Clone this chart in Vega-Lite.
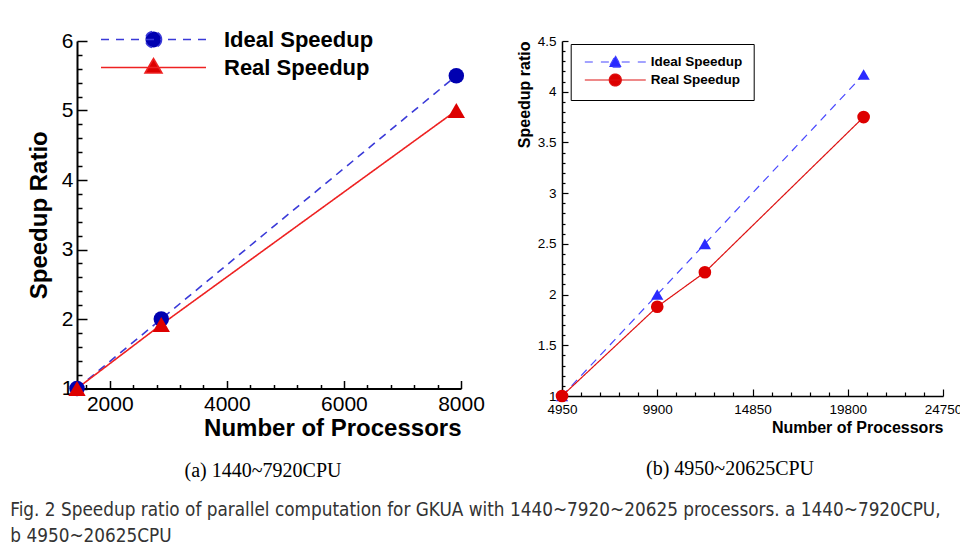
{
  "$schema": "https://vega.github.io/schema/vega-lite/v6.json",
  "background": "white",
  "padding": {"left": 10, "top": 28, "right": 0, "bottom": 0},
  "config": {"view": {"stroke": null}},
  "title": {
    "text": ["Fig. 2 Speedup ratio of parallel computation for GKUA with 1440~7920~20625 processors. a 1440~7920CPU,", "b 4950~20625CPU"],
    "orient": "bottom", "anchor": "start", "font": "Liberation Sans Narrow, DejaVu Sans Condensed, sans-serif",
    "fontSize": 18.8, "fontWeight": "normal", "color": "#333333", "lineHeight": 26, "offset": 20, "dx": -17
  },
  "bounds": "flush",
  "spacing": 101,
  "resolve": {
    "scale": {"color": "independent", "strokeDash": "independent"},
    "legend": {"color": "independent", "strokeDash": "independent"}
  },
  "hconcat": [
    {
      "width": 384, "height": 347.5,
      "data": {"values": [
        {"series": "Ideal Speedup", "processors": 1440, "speedup": 1},
        {"series": "Ideal Speedup", "processors": 2880, "speedup": 2},
        {"series": "Ideal Speedup", "processors": 7920, "speedup": 5.5},
        {"series": "Real Speedup", "processors": 1440, "speedup": 1},
        {"series": "Real Speedup", "processors": 2880, "speedup": 1.92},
        {"series": "Real Speedup", "processors": 7920, "speedup": 5.0}
      ]},
      "title": {"text": "(a) 1440~7920CPU", "orient": "bottom", "font": "Liberation Serif", "fontSize": 20, "fontWeight": "normal", "color": "black", "offset": 20, "dx": -6},
      "layer": [
        {
          "mark": {"type": "line", "strokeWidth": 1.6},
          "encoding": {
            "x": {"field": "processors", "type": "quantitative", "scale": {"domain": [1440, 8000], "nice": false, "zero": false},
              "axis": {"orient": "bottom", "values": [2000, 4000, 6000, 8000], "format": "d", "grid": false, "ticks": false, "tickSize": 0, "domainColor": "black", "domainWidth": 2,
                "labelFont": "Liberation Sans", "labelFontSize": 21, "labelColor": "black", "labelPadding": 5, "labelFlush": false,
                "title": "Number of Processors", "titleFont": "Liberation Sans", "titleFontSize": 24, "titleFontWeight": "bold", "titleColor": "black", "titleAnchor": "end", "titlePadding": 2}},
            "y": {"field": "speedup", "type": "quantitative", "scale": {"domain": [1, 6], "nice": false, "zero": false},
              "axis": {"orient": "left", "values": [1, 2, 3, 4, 5, 6], "format": "~g", "grid": false, "ticks": false, "tickSize": 0, "domainColor": "black", "domainWidth": 2,
                "labelFont": "Liberation Sans", "labelFontSize": 21, "labelColor": "black", "labelPadding": 4,
                "title": "Speedup Ratio", "titleFont": "Liberation Sans", "titleFontSize": 24, "titleFontWeight": "bold", "titleColor": "black", "titlePadding": 10}},
            "color": {"field": "series", "type": "nominal", "scale": {"domain": ["Ideal Speedup", "Real Speedup"], "range": ["#3a3ad8", "#ee2222"]},
              "legend": {"orient": "none", "legendX": 65.5, "legendY": -12.5, "title": null, "padding": 0, "symbolSize": 400, "symbolStrokeWidth": 1.6,
                "labelFont": "Liberation Sans", "labelFontSize": 22, "labelFontWeight": "bold", "labelColor": "black", "labelOffset": 59.5, "rowPadding": 3, "labelLimit": 300,
                "encode": {"symbols": {"update": {
                  "shape": {"signal": "datum.value === 'Ideal Speedup' ? 'M-5.25,0L-4.45,0M-3.75,0L-2.95,0M-2.25,0L-1.45,0M-0.75,0L0.75,0M1.45,0L2.25,0M2.95,0L3.75,0M4.45,0L5.25,0M0.8,0A0.8,0.8,0,1,1,-0.8,0A0.8,0.8,0,1,1,0.8,0Z' : 'M-5.25,0L5.25,0M0,-0.9L0.85,0.55L-0.85,0.55Z'"},
                  "fill": {"signal": "datum.value === 'Ideal Speedup' ? '#0000b0' : '#dd0000'"},
                  "fillOpacity": {"value": 1},
                  "stroke": {"signal": "datum.value === 'Ideal Speedup' ? '#3a3ad8' : '#ee2222'"},
                  "strokeWidth": {"value": 1.6},
                  "strokeDash": {"value": [1, 0]},
                  "opacity": {"value": 1}
                }}}}},
            "strokeDash": {"field": "series", "type": "nominal", "scale": {"domain": ["Ideal Speedup", "Real Speedup"], "range": [[8, 6], [1, 0]]}, "legend": null}
          }
        },
        {
          "transform": [{"filter": "datum.series === 'Ideal Speedup'"}],
          "mark": {"type": "point", "shape": "circle", "filled": true, "color": "#0000b0", "opacity": 1, "strokeWidth": 0, "size": 240},
          "encoding": {
            "x": {"field": "processors", "type": "quantitative",
              "axis": {"orient": "bottom", "values": [2000, 4000, 6000, 8000], "grid": false, "labels": false, "domain": false, "title": null, "ticks": true, "tickColor": "black", "tickWidth": 1.5, "tickSize": -8}},
            "y": {"field": "speedup", "type": "quantitative",
              "axis": {"orient": "left", "values": [1, 2, 3, 4, 5, 6], "grid": false, "labels": false, "domain": false, "title": null, "ticks": true, "tickColor": "black", "tickWidth": 1.5, "tickSize": -10}}
          }
        },
        {
          "transform": [{"filter": "datum.series === 'Real Speedup'"}],
          "mark": {"type": "point", "shape": "triangle-up", "filled": true, "color": "#dd0000", "opacity": 1, "strokeWidth": 0, "size": 300},
          "encoding": {
            "x": {"field": "processors", "type": "quantitative",
              "axis": {"orient": "bottom", "values": [1600, 2400, 2800, 3200, 3600, 4400, 4800, 5200, 5600, 6400, 6800, 7200, 7600], "grid": false, "labels": false, "domain": false, "title": null, "ticks": true, "tickColor": "black", "tickWidth": 1.5, "tickSize": -4}},
            "y": {"field": "speedup", "type": "quantitative",
              "axis": {"orient": "left", "values": [1.2, 1.4, 1.6, 1.8, 2.2, 2.4, 2.6, 2.8, 3.2, 3.4, 3.6, 3.8, 4.2, 4.4, 4.6, 4.8, 5.2, 5.4, 5.6, 5.8], "grid": false, "labels": false, "domain": false, "title": null, "ticks": true, "tickColor": "black", "tickWidth": 1.5, "tickSize": -5}}
          }
        }
      ],
      "resolve": {"axis": {"x": "independent", "y": "independent"}}
    },
    {
      "width": 381, "height": 355,
      "data": {"values": [
        {"series": "Ideal Speedup", "processors": 4950, "speedup": 1},
        {"series": "Ideal Speedup", "processors": 9900, "speedup": 2},
        {"series": "Ideal Speedup", "processors": 12375, "speedup": 2.5},
        {"series": "Ideal Speedup", "processors": 20625, "speedup": 4.17},
        {"series": "Real Speedup", "processors": 4950, "speedup": 1},
        {"series": "Real Speedup", "processors": 9900, "speedup": 1.88},
        {"series": "Real Speedup", "processors": 12375, "speedup": 2.22},
        {"series": "Real Speedup", "processors": 20625, "speedup": 3.75}
      ]},
      "title": {"text": "(b) 4950~20625CPU", "orient": "bottom", "font": "Liberation Serif", "fontSize": 20, "fontWeight": "normal", "color": "black", "offset": 23, "dx": -22.5},
      "layer": [
        {
          "mark": {"type": "line", "strokeWidth": 1.2},
          "encoding": {
            "x": {"field": "processors", "type": "quantitative", "scale": {"domain": [4950, 24750], "nice": false, "zero": false},
              "axis": {"orient": "bottom", "values": [4950, 9900, 14850, 19800, 24750], "format": "d", "grid": false, "ticks": false, "tickSize": 0, "domainColor": "black", "domainWidth": 1.5,
                "labelFont": "Liberation Sans", "labelFontSize": 13.5, "labelColor": "black", "labelPadding": 6, "labelFlush": false,
                "title": "Number of Processors", "titleFont": "Liberation Sans", "titleFontSize": 16, "titleFontWeight": "bold", "titleColor": "black", "titleAnchor": "end", "titlePadding": 4}},
            "y": {"field": "speedup", "type": "quantitative", "scale": {"domain": [1, 4.5], "nice": false, "zero": false},
              "axis": {"orient": "left", "values": [1, 1.5, 2, 2.5, 3, 3.5, 4, 4.5], "format": "~g", "grid": false, "ticks": false, "tickSize": 0, "domainColor": "black", "domainWidth": 1.5,
                "labelFont": "Liberation Sans", "labelFontSize": 13.5, "labelColor": "black", "labelPadding": 6,
                "title": "Speedup ratio", "titleFont": "Liberation Sans", "titleFontSize": 16, "titleFontWeight": "bold", "titleColor": "black", "titleAnchor": "end", "titlePadding": 5}},
            "color": {"field": "series", "type": "nominal", "scale": {"domain": ["Ideal Speedup", "Real Speedup"], "range": ["#4848ff", "#dd1111"]},
              "legend": {"orient": "none", "legendX": 8.7, "legendY": 3, "title": null, "padding": 11, "strokeColor": "black", "fillColor": "white",
                "symbolSize": 144, "symbolOffset": 26.6, "labelOffset": 28.4,
                "labelFont": "Liberation Sans", "labelFontSize": 13.5, "labelFontWeight": "bold", "labelColor": "black", "rowPadding": 1, "labelLimit": 300,
                "encode": {"symbols": {"update": {
                  "shape": {"signal": "datum.value === 'Ideal Speedup' ? 'M-5.08,0L-3.75,0M-2.4,0L-1.07,0M1.07,0L2.4,0M3.75,0L5.08,0M0,-1.05L1.05,0.85L-1.05,0.85Z' : 'M-5.08,0L5.08,0M1,0A1,1,0,1,1,-1,0A1,1,0,1,1,1,0Z'"},
                  "fill": {"signal": "datum.value === 'Ideal Speedup' ? '#2a2aff' : '#dd0000'"},
                  "fillOpacity": {"value": 1},
                  "stroke": {"signal": "datum.value === 'Ideal Speedup' ? '#4848ff' : '#dd1111'"},
                  "strokeWidth": {"value": 1.2},
                  "strokeDash": {"value": [1, 0]},
                  "opacity": {"value": 1}
                }}}}},
            "strokeDash": {"field": "series", "type": "nominal", "scale": {"domain": ["Ideal Speedup", "Real Speedup"], "range": [[8, 6], [1, 0]]}, "legend": null}
          }
        },
        {
          "transform": [{"filter": "datum.series === 'Ideal Speedup'"}],
          "mark": {"type": "point", "shape": "triangle-up", "filled": true, "color": "#2a2aff", "opacity": 1, "strokeWidth": 0, "size": 150},
          "encoding": {
            "x": {"field": "processors", "type": "quantitative",
              "axis": {"orient": "bottom", "values": [4950, 9900, 14850, 19800, 24750], "grid": false, "labels": false, "domain": false, "title": null, "ticks": true, "tickColor": "black", "tickWidth": 1.2, "tickSize": -7}},
            "y": {"field": "speedup", "type": "quantitative",
              "axis": {"orient": "left", "values": [1, 1.5, 2, 2.5, 3, 3.5, 4, 4.5], "grid": false, "labels": false, "domain": false, "title": null, "ticks": true, "tickColor": "black", "tickWidth": 1.2, "tickSize": -6}}
          }
        },
        {
          "transform": [{"filter": "datum.series === 'Real Speedup'"}],
          "mark": {"type": "point", "shape": "circle", "filled": true, "color": "#dd0000", "opacity": 1, "strokeWidth": 0, "size": 160},
          "encoding": {
            "x": {"field": "processors", "type": "quantitative",
              "axis": {"orient": "bottom", "values": [5940, 6930, 7920, 8910, 10890, 11880, 12870, 13860, 15840, 16830, 17820, 18810, 20790, 21780, 22770, 23760], "grid": false, "labels": false, "domain": false, "title": null, "ticks": true, "tickColor": "black", "tickWidth": 1.2, "tickSize": -4}},
            "y": {"field": "speedup", "type": "quantitative",
              "axis": {"orient": "left", "values": [1.1, 1.2, 1.3, 1.4, 1.6, 1.7, 1.8, 1.9, 2.1, 2.2, 2.3, 2.4, 2.6, 2.7, 2.8, 2.9, 3.1, 3.2, 3.3, 3.4, 3.6, 3.7, 3.8, 3.9, 4.1, 4.2, 4.3, 4.4], "grid": false, "labels": false, "domain": false, "title": null, "ticks": true, "tickColor": "black", "tickWidth": 1.2, "tickSize": -3}}
          }
        }
      ],
      "resolve": {"axis": {"x": "independent", "y": "independent"}}
    }
  ]
}
